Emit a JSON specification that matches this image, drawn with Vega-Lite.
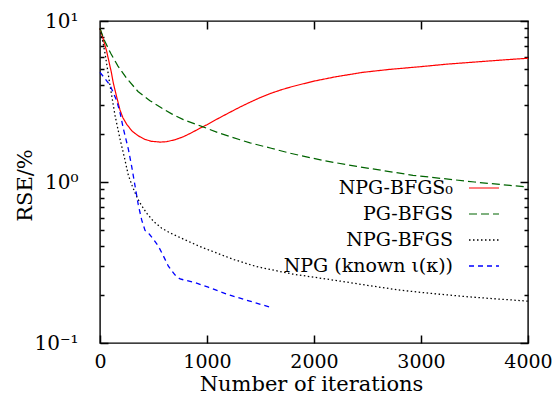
{
  "$schema": "https://vega.github.io/schema/vega-lite/v6.json",
  "width": 428,
  "height": 322,
  "autosize": {"type": "none"},
  "padding": {"left": 100, "top": 21, "right": 25, "bottom": 58},
  "config": {
    "view": {"stroke": "#000", "strokeWidth": 1.4},
    "axis": {"labelFont": "DejaVu Serif", "labelFontSize": 19, "labelColor": "#000", "titleFont": "DejaVu Serif", "titleFontSize": 21, "titleFontWeight": "normal", "titleColor": "#000"}
  },
  "data": {"values": [
    {"s": "NPG-BFGS₀", "i": 0, "v": 9.0},
    {"s": "NPG-BFGS₀", "i": 30, "v": 7.7},
    {"s": "NPG-BFGS₀", "i": 62, "v": 6.5},
    {"s": "NPG-BFGS₀", "i": 106, "v": 4.8},
    {"s": "NPG-BFGS₀", "i": 125, "v": 4.1},
    {"s": "NPG-BFGS₀", "i": 150, "v": 3.5},
    {"s": "NPG-BFGS₀", "i": 187, "v": 2.8},
    {"s": "NPG-BFGS₀", "i": 215, "v": 2.5},
    {"s": "NPG-BFGS₀", "i": 250, "v": 2.28},
    {"s": "NPG-BFGS₀", "i": 300, "v": 2.07},
    {"s": "NPG-BFGS₀", "i": 360, "v": 1.93},
    {"s": "NPG-BFGS₀", "i": 420, "v": 1.84},
    {"s": "NPG-BFGS₀", "i": 480, "v": 1.79},
    {"s": "NPG-BFGS₀", "i": 561, "v": 1.77},
    {"s": "NPG-BFGS₀", "i": 623, "v": 1.78},
    {"s": "NPG-BFGS₀", "i": 700, "v": 1.83},
    {"s": "NPG-BFGS₀", "i": 779, "v": 1.91},
    {"s": "NPG-BFGS₀", "i": 860, "v": 2.03},
    {"s": "NPG-BFGS₀", "i": 935, "v": 2.16},
    {"s": "NPG-BFGS₀", "i": 1000, "v": 2.27},
    {"s": "NPG-BFGS₀", "i": 1090, "v": 2.45},
    {"s": "NPG-BFGS₀", "i": 1200, "v": 2.68},
    {"s": "NPG-BFGS₀", "i": 1308, "v": 2.92},
    {"s": "NPG-BFGS₀", "i": 1402, "v": 3.13},
    {"s": "NPG-BFGS₀", "i": 1500, "v": 3.35},
    {"s": "NPG-BFGS₀", "i": 1600, "v": 3.56},
    {"s": "NPG-BFGS₀", "i": 1700, "v": 3.75},
    {"s": "NPG-BFGS₀", "i": 1800, "v": 3.92},
    {"s": "NPG-BFGS₀", "i": 1991, "v": 4.22},
    {"s": "NPG-BFGS₀", "i": 2200, "v": 4.5},
    {"s": "NPG-BFGS₀", "i": 2458, "v": 4.8},
    {"s": "NPG-BFGS₀", "i": 2700, "v": 5.0},
    {"s": "NPG-BFGS₀", "i": 2991, "v": 5.2},
    {"s": "NPG-BFGS₀", "i": 3250, "v": 5.4},
    {"s": "NPG-BFGS₀", "i": 3551, "v": 5.59},
    {"s": "NPG-BFGS₀", "i": 3800, "v": 5.75},
    {"s": "NPG-BFGS₀", "i": 4000, "v": 5.87},
    {"s": "PG-BFGS", "i": 0, "v": 9.0},
    {"s": "PG-BFGS", "i": 44, "v": 7.5},
    {"s": "PG-BFGS", "i": 100, "v": 6.3},
    {"s": "PG-BFGS", "i": 168, "v": 5.25},
    {"s": "PG-BFGS", "i": 250, "v": 4.4},
    {"s": "PG-BFGS", "i": 355, "v": 3.65},
    {"s": "PG-BFGS", "i": 467, "v": 3.2},
    {"s": "PG-BFGS", "i": 580, "v": 2.87},
    {"s": "PG-BFGS", "i": 670, "v": 2.65},
    {"s": "PG-BFGS", "i": 779, "v": 2.44},
    {"s": "PG-BFGS", "i": 963, "v": 2.2},
    {"s": "PG-BFGS", "i": 1100, "v": 2.03},
    {"s": "PG-BFGS", "i": 1308, "v": 1.83},
    {"s": "PG-BFGS", "i": 1402, "v": 1.75},
    {"s": "PG-BFGS", "i": 1600, "v": 1.62},
    {"s": "PG-BFGS", "i": 1776, "v": 1.51},
    {"s": "PG-BFGS", "i": 2084, "v": 1.36},
    {"s": "PG-BFGS", "i": 2400, "v": 1.25},
    {"s": "PG-BFGS", "i": 2925, "v": 1.1},
    {"s": "PG-BFGS", "i": 3500, "v": 1.0},
    {"s": "PG-BFGS", "i": 4000, "v": 0.93},
    {"s": "NPG-BFGS", "i": 0, "v": 9.0},
    {"s": "NPG-BFGS", "i": 20, "v": 7.8},
    {"s": "NPG-BFGS", "i": 47, "v": 6.3},
    {"s": "NPG-BFGS", "i": 93, "v": 4.0},
    {"s": "NPG-BFGS", "i": 140, "v": 2.6},
    {"s": "NPG-BFGS", "i": 187, "v": 1.85},
    {"s": "NPG-BFGS", "i": 230, "v": 1.4},
    {"s": "NPG-BFGS", "i": 265, "v": 1.1},
    {"s": "NPG-BFGS", "i": 300, "v": 0.95},
    {"s": "NPG-BFGS", "i": 340, "v": 0.82},
    {"s": "NPG-BFGS", "i": 374, "v": 0.74},
    {"s": "NPG-BFGS", "i": 436, "v": 0.64},
    {"s": "NPG-BFGS", "i": 500, "v": 0.57},
    {"s": "NPG-BFGS", "i": 577, "v": 0.516},
    {"s": "NPG-BFGS", "i": 663, "v": 0.48},
    {"s": "NPG-BFGS", "i": 763, "v": 0.447},
    {"s": "NPG-BFGS", "i": 935, "v": 0.397},
    {"s": "NPG-BFGS", "i": 1059, "v": 0.369},
    {"s": "NPG-BFGS", "i": 1250, "v": 0.33},
    {"s": "NPG-BFGS", "i": 1464, "v": 0.298},
    {"s": "NPG-BFGS", "i": 1800, "v": 0.268},
    {"s": "NPG-BFGS", "i": 2181, "v": 0.246},
    {"s": "NPG-BFGS", "i": 2500, "v": 0.228},
    {"s": "NPG-BFGS", "i": 2804, "v": 0.213},
    {"s": "NPG-BFGS", "i": 3100, "v": 0.203},
    {"s": "NPG-BFGS", "i": 3427, "v": 0.194},
    {"s": "NPG-BFGS", "i": 3700, "v": 0.188},
    {"s": "NPG-BFGS", "i": 4000, "v": 0.182},
    {"s": "NPG (known ι(κ))", "i": 0, "v": 4.8},
    {"s": "NPG (known ι(κ))", "i": 45, "v": 4.4},
    {"s": "NPG (known ι(κ))", "i": 93, "v": 4.0},
    {"s": "NPG (known ι(κ))", "i": 156, "v": 3.2},
    {"s": "NPG (known ι(κ))", "i": 187, "v": 2.7},
    {"s": "NPG (known ι(κ))", "i": 218, "v": 2.15},
    {"s": "NPG (known ι(κ))", "i": 265, "v": 1.6},
    {"s": "NPG (known ι(κ))", "i": 296, "v": 1.25},
    {"s": "NPG (known ι(κ))", "i": 327, "v": 0.95},
    {"s": "NPG (known ι(κ))", "i": 358, "v": 0.72},
    {"s": "NPG (known ι(κ))", "i": 390, "v": 0.58},
    {"s": "NPG (known ι(κ))", "i": 421, "v": 0.5},
    {"s": "NPG (known ι(κ))", "i": 460, "v": 0.475},
    {"s": "NPG (known ι(κ))", "i": 500, "v": 0.44},
    {"s": "NPG (known ι(κ))", "i": 545, "v": 0.4},
    {"s": "NPG (known ι(κ))", "i": 590, "v": 0.35},
    {"s": "NPG (known ι(κ))", "i": 639, "v": 0.3},
    {"s": "NPG (known ι(κ))", "i": 700, "v": 0.265},
    {"s": "NPG (known ι(κ))", "i": 748, "v": 0.25},
    {"s": "NPG (known ι(κ))", "i": 888, "v": 0.237},
    {"s": "NPG (known ι(κ))", "i": 1012, "v": 0.222},
    {"s": "NPG (known ι(κ))", "i": 1215, "v": 0.198},
    {"s": "NPG (known ι(κ))", "i": 1400, "v": 0.182},
    {"s": "NPG (known ι(κ))", "i": 1589, "v": 0.167}
  ]},
  "layer": [
    {
      "mark": {"type": "line"},
      "encoding": {
        "x": {"field": "i", "type": "quantitative", "scale": {"domain": [0, 4000], "nice": false},
          "axis": {"orient": "bottom", "values": [0, 1000, 2000, 3000, 4000], "format": "d", "domain": false, "grid": false,
            "tickColor": "#000", "tickWidth": 1.5, "tickSize": 8, "offset": -8, "labelPadding": 9, "labelFlush": false,
            "title": "Number of iterations", "titleX": 211, "titleY": 49, "titleBaseline": "middle", "titleAlign": "center"}},
        "y": {"field": "v", "type": "quantitative", "scale": {"type": "log", "domain": [0.1, 10], "nice": false},
          "axis": {"orient": "left", "values": [0.1, 1, 10], "domain": false, "grid": false,
            "tickColor": "#000", "tickWidth": 1.5, "tickSize": 8, "offset": -8,
            "labelExpr": "datum.value == 10 ? '10¹' : datum.value == 1 ? '10⁰' : '10⁻¹'",
            "labelPadding": 22, "labelFlush": false, "labelFontSize": 20,
            "title": "RSE/%", "titleX": -83, "titleY": 164, "titleAngle": -90, "titleAlign": "center", "titleBaseline": "middle"}},
        "color": {"field": "s", "type": "nominal",
          "scale": {"domain": ["NPG-BFGS₀", "PG-BFGS", "NPG-BFGS", "NPG (known ι(κ))"], "range": ["#ff0000", "#006400", "#000000", "#0000ff"]},
          "legend": {"title": null, "orient": "none", "legendX": 368, "legendY": 151, "symbolType": "stroke", "symbolSize": 900, "symbolStrokeWidth": 1.5,
            "labelAlign": "right", "labelOffset": -47, "labelFont": "DejaVu Serif", "labelFontSize": 19, "labelColor": "#000", "rowPadding": 0, "labelLimit": 400}},
        "strokeDash": {"field": "s", "type": "nominal",
          "scale": {"domain": ["NPG-BFGS₀", "PG-BFGS", "NPG-BFGS", "NPG (known ι(κ))"], "range": [[1, 0], [8, 4], [1.5, 2.5], [5, 4]]},
          "legend": {"title": null, "orient": "none", "legendX": 368, "legendY": 151, "symbolType": "stroke", "symbolSize": 900, "symbolStrokeWidth": 1.5,
            "labelAlign": "right", "labelOffset": -47, "labelFont": "DejaVu Serif", "labelFontSize": 19, "labelColor": "#000", "rowPadding": 0, "labelLimit": 400}},
        "strokeWidth": {"field": "s", "type": "nominal",
          "scale": {"domain": ["NPG-BFGS₀", "PG-BFGS", "NPG-BFGS", "NPG (known ι(κ))"], "range": [1.2, 1.3, 1.6, 1.3]}, "legend": null}
      }
    },
    {
      "mark": {"type": "line", "opacity": 0},
      "encoding": {
        "x": {"field": "i", "type": "quantitative", "scale": {"domain": [0, 4000], "nice": false},
          "axis": {"orient": "top", "values": [1000, 2000, 3000], "domain": false, "grid": false, "tickColor": "#000", "tickWidth": 1.5, "tickSize": 8, "offset": -8, "labels": false, "title": null}},
        "y": {"field": "v", "type": "quantitative", "scale": {"type": "log", "domain": [0.1, 10], "nice": false},
          "axis": {"orient": "left", "values": [0.2, 0.3, 0.4, 0.5, 0.6, 0.7, 0.8, 0.9, 2, 3, 4, 5, 6, 7, 8, 9], "domain": false, "grid": false, "tickColor": "#000", "tickWidth": 1.5, "tickSize": 4, "offset": -4, "labels": false, "title": null}},
        "detail": {"field": "s", "type": "nominal"}
      }
    },
    {
      "mark": {"type": "line", "opacity": 0},
      "encoding": {
        "x": {"field": "i", "type": "quantitative", "scale": {"domain": [0, 4000], "nice": false}, "axis": null},
        "y": {"field": "v", "type": "quantitative", "scale": {"type": "log", "domain": [0.1, 10], "nice": false},
          "axis": {"orient": "right", "values": [0.1, 1, 10], "domain": false, "grid": false, "tickColor": "#000", "tickWidth": 1.5, "tickSize": 8, "offset": -8, "labels": false, "title": null}},
        "detail": {"field": "s", "type": "nominal"}
      }
    },
    {
      "mark": {"type": "line", "opacity": 0},
      "encoding": {
        "x": {"field": "i", "type": "quantitative", "scale": {"domain": [0, 4000], "nice": false}, "axis": null},
        "y": {"field": "v", "type": "quantitative", "scale": {"type": "log", "domain": [0.1, 10], "nice": false},
          "axis": {"orient": "right", "values": [0.2, 0.3, 0.4, 0.5, 0.6, 0.7, 0.8, 0.9, 2, 3, 4, 5, 6, 7, 8, 9], "domain": false, "grid": false, "tickColor": "#000", "tickWidth": 1.5, "tickSize": 4, "offset": -4, "labels": false, "title": null}},
        "detail": {"field": "s", "type": "nominal"}
      }
    }
  ],
  "resolve": {"axis": {"x": "independent", "y": "independent"}}
}
